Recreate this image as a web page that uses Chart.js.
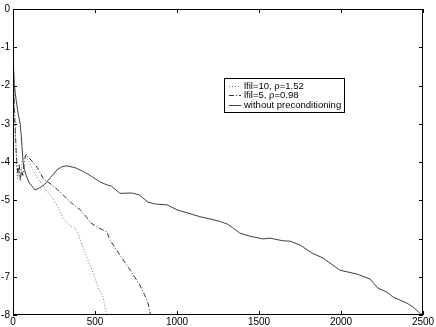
<!DOCTYPE html>
<html>
<head>
<meta charset="utf-8">
<script src="https://cdn.jsdelivr.net/npm/chart.js@4/dist/chart.umd.min.js"></script>
<style>
html,body{margin:0;padding:0;background:#fff;}
#wrap{width:436px;height:327px;position:relative;}
</style>
</head>
<body>
<div id="wrap"><canvas id="c" width="436" height="327"></canvas></div>
<script>
// ---- data ----
const xTicks = [0, 500, 1000, 1500, 2000, 2500];
const yTicks = [0, -1, -2, -3, -4, -5, -6, -7, -8];
const xTickLabels = ['0', '500', '1000', '1500', '2000', '2500'];
const yTickLabels = ['0', '-1', '-2', '-3', '-4', '-5', '-6', '-7', '-8'];

const labelLfil10 = 'lfil=10, ρ=1.52';
const labelLfil5 = 'lfil=5, ρ=0.98';
const labelNone = 'without preconditioning';

const lfil10Iter = [0, 3, 6, 9, 12, 15, 18, 21, 24, 28, 35, 45, 55, 65, 73, 90, 105, 122, 140, 165, 195, 226, 250, 274, 305, 329, 355, 378, 396, 421, 451, 488, 518, 549, 567, 575];
const lfil10Val  = [-0.5, -1.6, -2.1, -2.4, -2.9, -3.2, -3.6, -3.9, -4.3, -4.45, -4.2, -4.35, -4.0, -3.9, -3.82, -3.95, -4.05, -4.21, -4.35, -4.52, -4.7, -4.86, -5.0, -5.18, -5.46, -5.59, -5.68, -5.72, -5.86, -6.17, -6.51, -6.88, -7.27, -7.53, -7.92, -8.05];

const lfil5Iter = [0, 3, 6, 9, 12, 16, 20, 25, 30, 38, 45, 52, 60, 70, 80, 92, 110, 130, 146, 165, 183, 210, 238, 270, 305, 350, 410, 450, 470, 512, 573, 591, 652, 713, 774, 805, 823, 840];
const lfil5Val  = [-0.5, -1.7, -2.2, -2.7, -3.0, -3.4, -3.8, -4.1, -4.35, -4.05, -4.5, -4.2, -4.35, -3.95, -3.8, -3.87, -3.95, -4.05, -4.13, -4.28, -4.42, -4.52, -4.6, -4.72, -4.86, -5.05, -5.25, -5.45, -5.58, -5.7, -5.83, -6.04, -6.43, -6.82, -7.22, -7.5, -7.69, -8.02];

const noneIter = [0, 3, 8, 14, 20, 30, 43, 50, 55, 61, 70, 80, 100, 120, 134, 160, 190, 230, 270, 300, 329, 380, 430, 480, 530, 573, 600, 652, 725, 770, 823, 870, 939, 1000, 1061, 1140, 1201, 1260, 1305, 1340, 1384, 1445, 1524, 1567, 1646, 1689, 1750, 1768, 1823, 1890, 1994, 2098, 2177, 2226, 2280, 2317, 2402, 2439, 2480, 2500];
const noneVal  = [-0.5, -1.5, -1.95, -2.2, -2.4, -2.7, -2.98, -3.3, -3.6, -4.0, -4.2, -4.35, -4.55, -4.65, -4.73, -4.68, -4.6, -4.4, -4.2, -4.12, -4.1, -4.15, -4.25, -4.38, -4.52, -4.6, -4.63, -4.82, -4.81, -4.86, -5.05, -5.1, -5.12, -5.25, -5.33, -5.43, -5.49, -5.55, -5.62, -5.72, -5.86, -5.94, -6.01, -5.99, -6.06, -6.07, -6.17, -6.22, -6.38, -6.51, -6.83, -6.93, -7.06, -7.3, -7.4, -7.53, -7.69, -7.79, -7.95, -8.0];

const toPts = (xs, ys) => xs.map((x, i) => ({x: x, y: ys[i]}));

const FONT = 'Liberation Sans, Arial, Helvetica, sans-serif';

// MATLAB-like frame with inward ticks, and an in-plot legend
const framePlugin = {
  id: 'frame',
  afterDatasetsDraw(chart) {
    const {ctx, chartArea: a, scales} = chart;
    ctx.save();
    ctx.strokeStyle = '#000';
    ctx.lineWidth = 1;
    ctx.strokeRect(a.left + 0.5, a.top + 0.5, a.right - a.left - 1, a.bottom - a.top - 1);
    const tl = 4;
    ctx.beginPath();
    xTicks.forEach(v => {
      const px = Math.round(scales.x.getPixelForValue(v)) + 0.5;
      ctx.moveTo(px, a.bottom); ctx.lineTo(px, a.bottom - tl);
      ctx.moveTo(px, a.top); ctx.lineTo(px, a.top + tl);
    });
    yTicks.forEach(v => {
      const py = Math.round(scales.y.getPixelForValue(v)) + 0.5;
      ctx.moveTo(a.left, py); ctx.lineTo(a.left + tl, py);
      ctx.moveTo(a.right, py); ctx.lineTo(a.right - tl, py);
    });
    ctx.stroke();

    // legend box
    const bx = 224.5, by = 78.5, bw = 120, bh = 34;
    ctx.fillStyle = '#fff';
    ctx.fillRect(bx, by, bw, bh);
    ctx.strokeRect(bx, by, bw, bh);
    ctx.font = '9.5px ' + FONT;
    ctx.textBaseline = 'middle';
    ctx.textAlign = 'left';
    chart.data.datasets.forEach((ds, i) => {
      const y = Math.round(by + 7.5 + i * 9.3) + 0.5;
      ctx.save();
      ctx.strokeStyle = ds.borderColor;
      ctx.lineWidth = ds.borderWidth;
      ctx.setLineDash(ds.borderDash || []);
      ctx.beginPath();
      ctx.moveTo(229, y); ctx.lineTo(241, y);
      ctx.stroke();
      ctx.restore();
      ctx.fillStyle = '#000';
      ctx.fillText(ds.label, 244, y);
    });
    ctx.restore();
  }
};

new Chart(document.getElementById('c'), {
  type: 'line',
  data: {
    datasets: [
      { label: labelLfil10, data: toPts(lfil10Iter, lfil10Val), borderColor: '#777', borderWidth: 1, borderDash: [1, 2], pointRadius: 0, tension: 0, fill: false },
      { label: labelLfil5, data: toPts(lfil5Iter, lfil5Val), borderColor: '#333', borderWidth: 1, borderDash: [5, 2, 1, 2], pointRadius: 0, tension: 0, fill: false },
      { label: labelNone, data: toPts(noneIter, noneVal), borderColor: '#2a2a2a', borderWidth: 0.9, pointRadius: 0, tension: 0, fill: false }
    ]
  },
  options: {
    responsive: false,
    animation: false,
    devicePixelRatio: 1,
    layout: { padding: { left: 0, right: 13, top: 9, bottom: 0 } },
    plugins: { legend: { display: false }, tooltip: { enabled: false } },
    scales: {
      x: {
        type: 'linear', min: 0, max: 2500,
        afterBuildTicks: s => { s.ticks = xTicks.map(v => ({value: v})); },
        afterFit: s => { s.height = 12; },
        grid: { display: false, drawTicks: false },
        border: { display: false },
        ticks: { padding: 1, color: '#000', font: { family: FONT, size: 10 }, maxRotation: 0, autoSkip: false,
                 callback: (v) => xTickLabels[xTicks.indexOf(v)] }
      },
      y: {
        type: 'linear', min: -8, max: 0,
        afterBuildTicks: s => { s.ticks = yTicks.map(v => ({value: v})); },
        afterFit: s => { s.width = 13; },
        grid: { display: false, drawTicks: false },
        border: { display: false },
        ticks: { padding: 3, color: '#000', font: { family: FONT, size: 10 }, autoSkip: false,
                 callback: (v) => yTickLabels[yTicks.indexOf(v)] }
      }
    }
  },
  plugins: [framePlugin]
});
</script>
</body>
</html>
